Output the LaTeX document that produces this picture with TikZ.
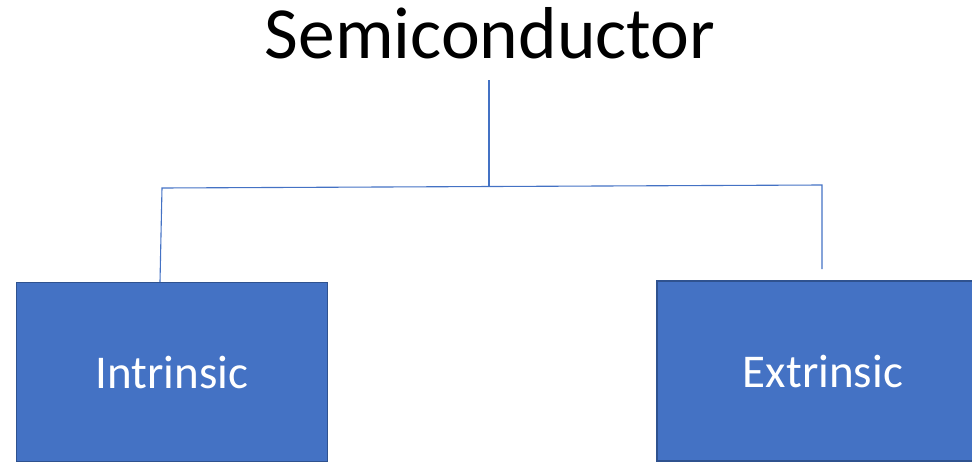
\documentclass[tikz,border=0pt]{standalone}
\usepackage{fontspec}
\setmainfont{Carlito}
\definecolor{boxblue}{HTML}{4472C4}
\definecolor{boxedge}{HTML}{2F528F}
\definecolor{linkblue}{HTML}{4472C4}
\begin{document}
\begin{tikzpicture}[x=1pt,y=-1pt,
  catbox/.style={draw=boxedge, line width=1.8pt, fill=boxblue, text=white,
    font=\fontsize{47}{52}\selectfont, inner sep=0pt},
  conn/.style={draw=linkblue, line width=1.1pt}]
\useasboundingbox (0,0) rectangle (972,463);
\node[font=\fontsize{73.5}{80}\selectfont, anchor=base, inner sep=0pt] (title) at (490,58) {Semiconductor};
\node[catbox, minimum width=311pt, minimum height=179pt] (intr) at (172,372) {Intrinsic};
\node[catbox, minimum width=332pt, minimum height=180pt] (extr) at (823,371) {Extrinsic};
\coordinate (top) at (489,80);
\coordinate (mid) at (489,186.5);
\coordinate (lt) at (162,188);
\coordinate (rt) at (822,185);
\coordinate (lb) at (160,282);
\coordinate (rb) at (822,269);
\draw[conn] (top) -- (mid);
\draw[conn] (lb) -- (lt) -- (rt) -- (rb);
\end{tikzpicture}
\end{document}
